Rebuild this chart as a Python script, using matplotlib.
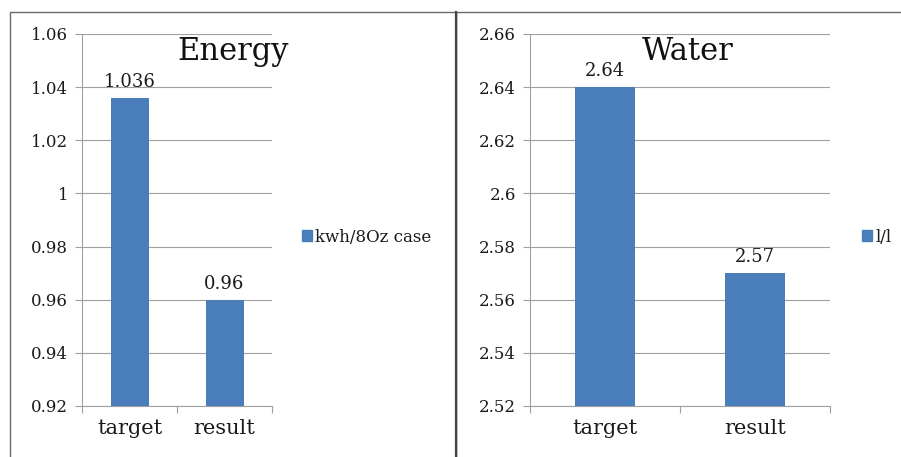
import matplotlib
matplotlib.use("Agg")
import matplotlib.pyplot as plt
from matplotlib.patches import Rectangle

categories = ["target", "result"]

energy_values = [1.036, 0.96]
energy_labels = ["1.036", "0.96"]
energy_ticks = [0.92, 0.94, 0.96, 0.98, 1.00, 1.02, 1.04, 1.06]
energy_ticklabels = ["0.92", "0.94", "0.96", "0.98", "1", "1.02", "1.04", "1.06"]

water_values = [2.64, 2.57]
water_labels = ["2.64", "2.57"]
water_ticks = [2.52, 2.54, 2.56, 2.58, 2.60, 2.62, 2.64, 2.66]
water_ticklabels = ["2.52", "2.54", "2.56", "2.58", "2.6", "2.62", "2.64", "2.66"]

plt.rcParams['font.family'] = ['DejaVu Serif']
bar_color = "#4a7ebb"
grid_color = "#a0a0a0"
text_color = "#1a1a1a"

fig = plt.figure(figsize=(9.01, 4.57), dpi=100)
W, H = 901, 457

# panel frames
fig.patches.append(Rectangle((10 / W, -0.1), 446 / W, 1.1 - 12 / H,
                             transform=fig.transFigure, fill=False,
                             edgecolor="#6a6a6a", linewidth=1.0))
fig.patches.append(Rectangle((456 / W, -0.1), 0.5, 1.1 - 12 / H,
                             transform=fig.transFigure, fill=False,
                             edgecolor="#6a6a6a", linewidth=1.0))
fig.add_artist(plt.Line2D([456.5 / W, 456.5 / W], [0, 1 - 12 / H],
                          transform=fig.transFigure, color="#444444", linewidth=1.6))


def draw_panel(rect, values, labels, ticks, ticklabels, title, title_x,
               series, legend_x):
    ax = fig.add_axes(rect)
    x = range(len(categories))
    ax.bar(x, values, width=0.4, color=bar_color, zorder=3)
    ax.set_xlim(-0.5, len(categories) - 0.5)
    ax.set_ylim(ticks[0], ticks[-1])
    ax.set_yticks(ticks)
    ax.set_yticklabels(ticklabels, fontsize=12, color=text_color)
    ax.set_xticks([-0.5, 0.5, 1.5], minor=True)
    ax.set_xticks(list(x))
    ax.set_xticklabels(categories, fontsize=15, color=text_color)
    ax.tick_params(axis="x", which="major", length=0, pad=9)
    ax.tick_params(axis="x", which="minor", length=5, color=grid_color, width=0.8)
    ax.tick_params(axis="y", length=5, color=grid_color, width=0.8, pad=5)
    ax.yaxis.grid(True, color=grid_color, linewidth=0.8, zorder=0)
    for side in ["top", "right"]:
        ax.spines[side].set_visible(False)
    for side in ["left", "bottom"]:
        ax.spines[side].set_color(grid_color)
        ax.spines[side].set_linewidth(0.8)
    for xi, v, lab in zip(x, values, labels):
        ax.annotate(lab, (xi, v), xytext=(0, 5), textcoords="offset points",
                    ha="center", va="bottom", fontsize=13, color=text_color)
    ax.text(title_x, 0.952, title, transform=ax.transAxes, ha="center",
            va="center", fontsize=22, color="#111111")
    handle = Rectangle((0, 0), 1, 1, color=bar_color)
    ax.legend([handle], [series], loc="center left",
              bbox_to_anchor=(legend_x, 1 - 237 / H),
              bbox_transform=fig.transFigure, frameon=False, fontsize=12,
              handlelength=0.6, handleheight=0.6, handletextpad=0.2,
              borderpad=0, borderaxespad=0, labelcolor=text_color)
    return ax


draw_panel([82 / W, 1 - 406 / H, 190 / W, 372 / H], energy_values, energy_labels,
           energy_ticks, energy_ticklabels, "Energy", 0.795, "kwh/8Oz case", 302 / W)
draw_panel([530 / W, 1 - 406 / H, 300 / W, 372 / H], water_values, water_labels,
           water_ticks, water_ticklabels, "Water", 0.525, "l/l", 862 / W)

fig.savefig("out.png", dpi=100, facecolor="white")
